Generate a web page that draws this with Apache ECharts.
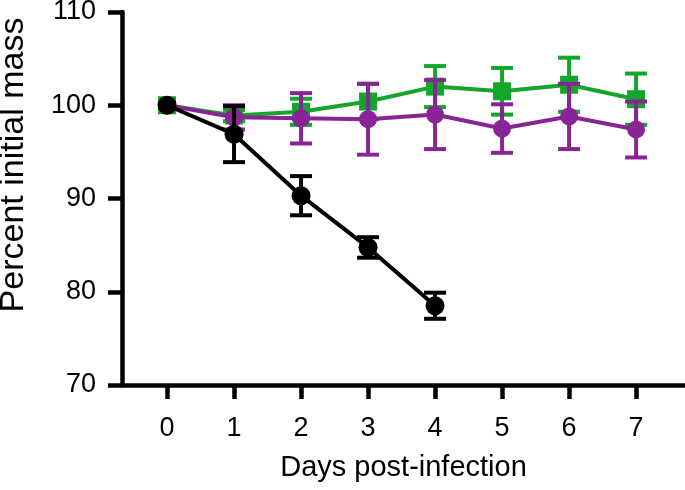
<!DOCTYPE html>
<html>
<head>
<meta charset="utf-8">
<script src="https://cdn.jsdelivr.net/npm/echarts@6/dist/echarts.min.js"></script>
<style>
html,body{margin:0;padding:0;background:#fff;}
#chart{width:685px;height:490px;}
</style>
</head>
<body>
<div id="chart"></div>
<script>
const days = [0, 1, 2, 3, 4, 5, 6, 7];
const tickLabels = ['0', '1', '2', '3', '4', '5', '6', '7'];
const yTicks = [70, 80, 90, 100, 110];

const greenMean = [100, 98.9, 99.3, 100.4, 102.0, 101.5, 102.2, 100.65];
const greenErr = [0, 0.6, 1.4, 1.9, 2.2, 2.5, 2.9, 2.75];

const purpleMean = [100, 98.7, 98.6, 98.5, 99.0, 97.5, 98.8, 97.4];
const purpleErr = [0, 1.3, 2.7, 3.8, 3.7, 2.6, 3.5, 3.0];

const blackDays = [0, 1, 2, 3, 4];
const blackMean = [100, 96.9, 90.3, 84.75, 78.5];
const blackErr = [0, 3.0, 2.1, 1.1, 1.4];

const GREEN = '#14a52b';
const PURPLE = '#892496';
const BLACK = '#000000';
const FONT = '"Liberation Sans", Arial, sans-serif';

function pts(xs, ys) { return xs.map((x, i) => [x, ys[i]]); }
function errData(xs, m, e) { return xs.map((x, i) => [x, m[i] - e[i], m[i] + e[i]]); }

function errSeries(data, color, z) {
  return {
    type: 'custom',
    z: z,
    data: data,
    encode: { x: 0, y: [1, 2] },
    renderItem: function (params, api) {
      const x = api.value(0);
      const lo = api.coord([x, api.value(1)]);
      const hi = api.coord([x, api.value(2)]);
      if (api.value(2) - api.value(1) <= 0) return { type: 'group', children: [] };
      const hw = 11;
      const st = { stroke: color, lineWidth: 4 };
      return {
        type: 'group',
        children: [
          { type: 'line', shape: { x1: lo[0], y1: lo[1], x2: hi[0], y2: hi[1] }, style: st },
          { type: 'line', shape: { x1: lo[0] - hw, y1: lo[1], x2: lo[0] + hw, y2: lo[1] }, style: st },
          { type: 'line', shape: { x1: hi[0] - hw, y1: hi[1], x2: hi[0] + hw, y2: hi[1] }, style: st }
        ]
      };
    }
  };
}

function lineSeries(data, color, symbol, size, z) {
  return {
    type: 'line',
    z: z,
    data: data,
    symbol: symbol,
    symbolSize: size,
    showSymbol: true,
    lineStyle: { color: color, width: 4 },
    itemStyle: { color: color, borderWidth: 0 },
    emphasis: { disabled: true },
    animation: false
  };
}

const chart = echarts.init(document.getElementById('chart'), null, { renderer: 'canvas' });
chart.setOption({
  animation: false,
  backgroundColor: '#fff',
  grid: { left: 122, right: 0, top: 12, bottom: 105, containLabel: false, outerBoundsMode: 'none' },
  xAxis: {
    type: 'value',
    min: -0.672,
    max: 7.73,
    axisLine: { show: true, lineStyle: { color: BLACK, width: 4.5 } },
    axisTick: { show: true, length: 14, lineStyle: { color: BLACK, width: 4.5 }, customValues: days },
    axisLabel: {
      customValues: days,
      formatter: function (v) { return tickLabels[days.indexOf(v)]; },
      margin: 30, color: BLACK, fontSize: 27, fontFamily: FONT
    },
    splitLine: { show: false },
    name: 'Days post-infection',
    nameLocation: 'middle',
    nameGap: 68,
    nameTextStyle: { color: BLACK, fontSize: 29, fontFamily: FONT }
  },
  yAxis: {
    type: 'value',
    min: 70,
    max: 110,
    interval: 10,
    axisLine: { show: true, onZero: false, lineStyle: { color: BLACK, width: 4.5 } },
    axisTick: { show: true, length: 14, lineStyle: { color: BLACK, width: 4.5 } },
    axisLabel: { margin: 26, color: BLACK, fontSize: 27, fontFamily: FONT,
      formatter: function (v) { return yTicks.indexOf(v) >= 0 ? String(v) : ''; } },
    splitLine: { show: false }
  },
  graphic: [{
    type: 'text',
    x: 14, y: 165,
    rotation: Math.PI / 2,
    style: {
      text: 'Percent initial mass',
      fill: BLACK,
      font: '34px ' + FONT,
      align: 'center',
      verticalAlign: 'middle'
    }
  }],
  series: [
    errSeries(errData(days, greenMean, greenErr), GREEN, 2),
    lineSeries(pts(days, greenMean), GREEN, 'rect', 18, 3),
    errSeries(errData(days, purpleMean, purpleErr), PURPLE, 4),
    lineSeries(pts(days, purpleMean), PURPLE, 'circle', 18, 5),
    errSeries(errData(blackDays, blackMean, blackErr), BLACK, 6),
    lineSeries(pts(blackDays, blackMean), BLACK, 'circle', 19, 7)
  ]
});
</script>
</body>
</html>
